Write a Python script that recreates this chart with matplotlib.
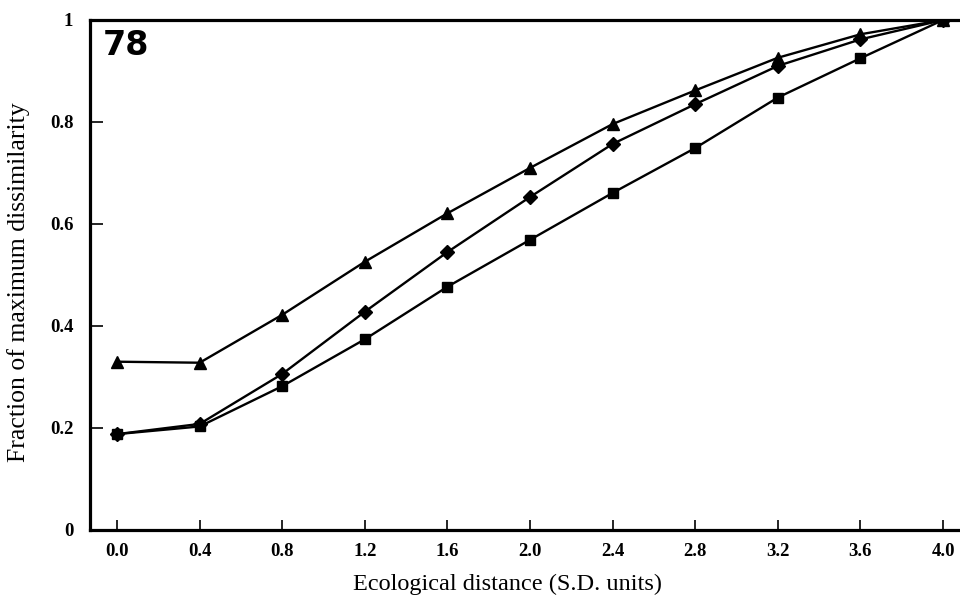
import numpy as np
import matplotlib
matplotlib.use('Agg')
import matplotlib.pyplot as plt

# data
dist = [0.0, 0.4, 0.8, 1.2, 1.6, 2.0, 2.4, 2.8, 3.2, 3.6, 4.0]
triangle_vals = [0.330, 0.328, 0.422, 0.526, 0.621, 0.710, 0.796, 0.862, 0.926, 0.972, 1.0]
diamond_vals = [0.188, 0.208, 0.306, 0.428, 0.545, 0.653, 0.757, 0.835, 0.910, 0.962, 1.0]
square_vals = [0.188, 0.203, 0.282, 0.374, 0.477, 0.569, 0.661, 0.749, 0.848, 0.925, 1.0]

xticks = [0.0, 0.4, 0.8, 1.2, 1.6, 2.0, 2.4, 2.8, 3.2, 3.6, 4.0]
yticks = [0, 0.2, 0.4, 0.6, 0.8, 1]
ytick_labels = ['0', '0.2', '0.4', '0.6', '0.8', '1']

plt.rcParams['font.family'] = ['Liberation Serif', 'DejaVu Serif']

fig = plt.figure(figsize=(9.6, 5.99), dpi=100)
ax = fig.add_axes([90 / 960, 69 / 599, 870 / 960, 510 / 599])

ax.plot(dist, square_vals, color='black', lw=1.7, marker='s', ms=7, zorder=3)
ax.plot(dist, diamond_vals, color='black', lw=1.7, marker='D', ms=7, zorder=4)
ax.plot(dist, triangle_vals, color='black', lw=1.7, marker='^', ms=8, zorder=5)

ax.set_xlim(-0.131, 4.082)
ax.set_ylim(0, 1)
ax.set_xticks(xticks)
ax.set_xticklabels([f'{v:.1f}' for v in xticks])
ax.set_yticks(yticks)
ax.set_yticklabels(ytick_labels)

ax.tick_params(axis='x', direction='in', length=7, width=1.2, pad=9, labelsize=13.5)
ax.tick_params(axis='y', direction='in', length=9, width=1.2, pad=12, labelsize=13.5)
for lab in ax.get_xticklabels() + ax.get_yticklabels():
    lab.set_fontweight('bold')

for side in ['left', 'top', 'bottom']:
    ax.spines[side].set_linewidth(2.3)
ax.spines['right'].set_visible(False)

ax.set_xlabel('Ecological distance (S.D. units)', fontsize=17.5)
ax.set_ylabel('Fraction of maximum dissimilarity', fontsize=18.5)
ax.xaxis.set_label_coords(0.48, -0.085)
ax.yaxis.set_label_coords(-0.069, 0.485)

ax.text(0.015, 0.982, '78', transform=ax.transAxes, ha='left', va='top',
        fontsize=24, fontweight='bold', family='DejaVu Sans')

fig.savefig('out.png', dpi=100)
